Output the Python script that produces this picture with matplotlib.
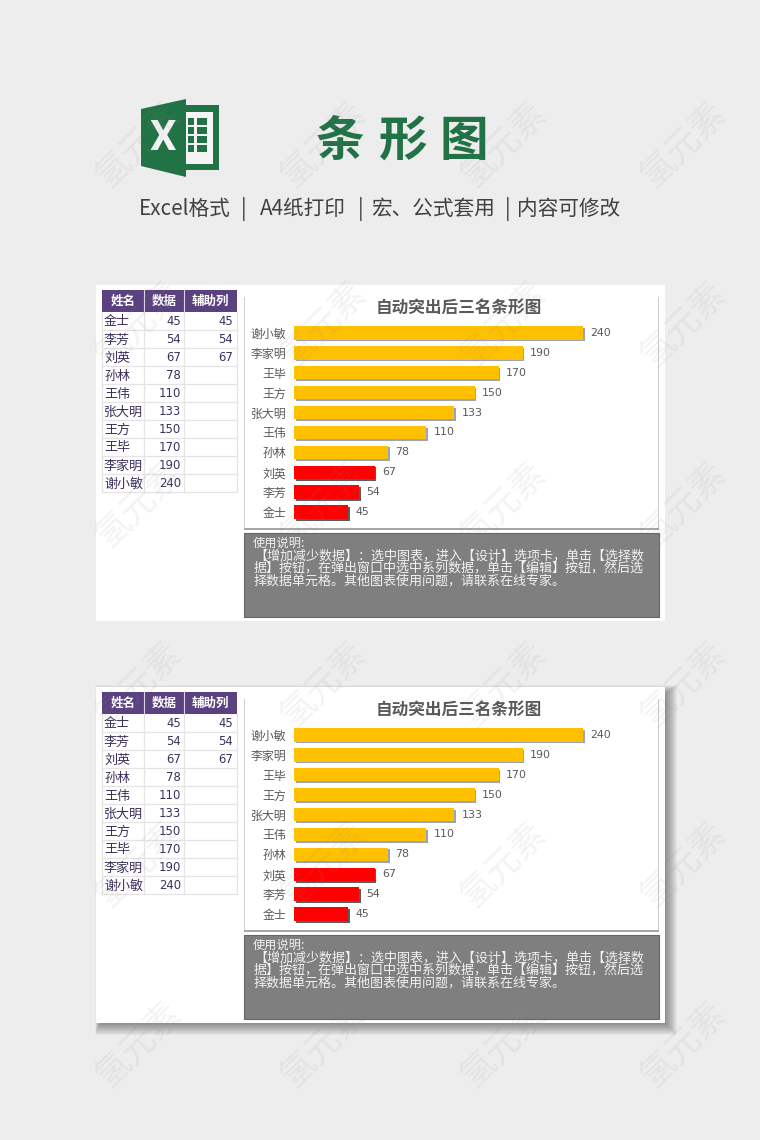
import matplotlib
matplotlib.use("Agg")
import matplotlib.pyplot as plt
import matplotlib.patheffects as pe
from matplotlib.patches import Rectangle, Polygon

plt.rcParams["font.family"] = ["Noto Sans CJK SC", "DejaVu Sans"]

# --- dados ---
nomes = ["金士", "李芳", "刘英", "孙林", "王伟", "张大明", "王方", "王毕", "李家明", "谢小敏"]
dados = [45, 54, 67, 78, 110, 133, 150, 170, 190, 240]
auxiliar = [45, 54, 67, None, None, None, None, None, None, None]
cabecalho = ["姓名", "数据", "辅助列"]
titulo_grafico = "自动突出后三名条形图"
nota = [
    "使用说明:",
    "【增加减少数据】：选中图表，进入【设计】选项卡，单击【选择数",
    "据】按钮，在弹出窗口中选中系列数据，单击【编辑】按钮，然后选",
    "择数据单元格。其他图表使用问题，请联系在线专家。",
]

W, H = 760, 1140
VERDE = "#217346"
ROXO = "#5b4180"
TEXTO_ROXO = "#3d2f5c"
CINZA = "#595959"

fig = plt.figure(figsize=(W / 100, H / 100), dpi=100, facecolor="#ededed")

# eixo de fundo em pixels
bg = fig.add_axes([0, 0, 1, 1], zorder=0)
bg.set_xlim(0, W)
bg.set_ylim(H, 0)
bg.axis("off")


def ret(ax, x0, y0, x1, y1, **kw):
    ax.add_patch(Rectangle((x0, y0), x1 - x0, y1 - y0, linewidth=kw.pop("linewidth", 0), **kw))


# --- cabeçalho: logo, título, subtítulo ---
ret(bg, 186, 105, 219, 170, facecolor=VERDE)
ret(bg, 186, 112, 213, 164, facecolor="#f4f4f4")
for cx, cw in [(188, 6), (197, 10)]:
    for cy in [118, 127, 136, 145]:
        ret(bg, cx, cy, cx + cw, cy + 7, facecolor=VERDE)
bg.add_patch(Polygon([(141, 109), (186, 99), (186, 177), (141, 166)], closed=True, facecolor=VERDE, linewidth=0))
bg.text(163, 138, "X", color="#f4f4f4", fontsize=30, fontweight="bold", ha="center", va="center", family=["Roboto"])

for ch, xc in zip("条形图", [340, 402, 464]):
    bg.text(xc, 141, ch, color=VERDE, fontsize=35, fontweight="bold", ha="center", va="center")

for txt, x in [("Excel格式", 139), ("|", 241), ("A4纸打印", 260), ("|", 358), ("宏、公式套用", 371), ("|", 505), ("内容可修改", 517)]:
    bg.text(x, 209, txt, color="#404040", fontsize=14.9, ha="left", va="center")


def desenha_painel(dy, sombra):
    if sombra:
        # sombra esfumada, mais forte embaixo e à direita
        for i in range(16, 0, -1):
            ret(bg, 100 - i * 0.3, 291 + dy - i * 0.5, 665 + i * 0.75, 621 + dy + i * 0.75, facecolor="#000000", alpha=0.028)
    ret(bg, 96, 285 + dy, 665, 621 + dy, facecolor="white")

    # tabela
    xs = [102, 144, 184, 237]
    ret(bg, xs[0], 290 + dy, xs[3], 312 + dy, facecolor=ROXO)
    for k in range(3):
        bg.text((xs[k] + xs[k + 1]) / 2, 301 + dy, cabecalho[k], color="white", fontsize=9, fontweight="bold", ha="center", va="center")
    for x in xs[1:3]:
        bg.plot([x, x], [290 + dy, 312 + dy], color="#d8d4e2", lw=0.8)
    linha_y = 312 + dy
    for i, nome in enumerate(nomes):
        y = linha_y + 18 * i
        bg.plot([xs[0], xs[3]], [y + 18, y + 18], color="#e4e4e4", lw=0.9)
        bg.text(104, y + 10, nome, color=TEXTO_ROXO, fontsize=9.4, ha="left", va="center")
        bg.text(181, y + 9.5, str(dados[i]), color=TEXTO_ROXO, fontsize=8.4, ha="right", va="center", family=["DejaVu Sans"])
        if auxiliar[i] is not None:
            bg.text(233, y + 9.5, str(auxiliar[i]), color=TEXTO_ROXO, fontsize=8.4, ha="right", va="center", family=["DejaVu Sans"])
    for x in xs:
        bg.plot([x, x], [312 + dy, 492 + dy], color="#e4e4e4", lw=0.9)

    # cartão do gráfico
    ret(bg, 244, 297 + dy, 659, 530 + dy, facecolor="#a6a6a6")
    ret(bg, 245, 297 + dy, 657.5, 527.5 + dy, facecolor="white")
    ret(bg, 244, 297 + dy, 245, 527.5 + dy, facecolor="#d0d0d0")
    ret(bg, 657.5, 297 + dy, 659, 527.5 + dy, facecolor="#cccccc")
    bg.text(459, 308 + dy, titulo_grafico, color=CINZA, fontsize=12, fontweight="bold", ha="center", va="center")

    # gráfico de barras
    topo, base = 323 + dy, 522 + dy
    ax = fig.add_axes([294 / W, 1 - base / H, 349 / W, (base - topo) / H], zorder=2)
    ax.patch.set_alpha(0)
    y_pos = list(range(len(nomes)))
    barras = ax.barh(y_pos, dados, height=0.67, color="#ffc000")
    for b in barras:
        b.set_path_effects([pe.withSimplePatchShadow(offset=(1.3, -1.3), shadow_rgbFace="#8a93b0", alpha=0.85), pe.Normal()])
    y_aux = [p for p, v in zip(y_pos, auxiliar) if v is not None]
    v_aux = [v for v in auxiliar if v is not None]
    vermelhas = ax.barh(y_aux, v_aux, height=0.67, color="#ff0000")
    for b in vermelhas:
        b.set_path_effects([pe.withSimplePatchShadow(offset=(1.3, -1.3), shadow_rgbFace="#505050", alpha=0.85), pe.Normal()])
    for p, v in zip(y_pos, dados):
        ax.annotate(str(v), (v, p), xytext=(5.5, 0), textcoords="offset points", color=CINZA, fontsize=7.9, va="center", family=["DejaVu Sans"])
    ax.set_xlim(0, 290)
    ax.set_ylim(-0.5, len(nomes) - 0.5)
    ax.set_yticks(y_pos, nomes, color=CINZA, fontsize=8.6)
    ax.tick_params(axis="y", length=0, pad=5.5)
    ax.set_xticks([])
    for s in ax.spines.values():
        s.set_visible(False)

    # caixa de instruções
    ret(bg, 244, 533 + dy, 659, 617 + dy, facecolor="#7f7f7f", edgecolor="#666666", linewidth=0.8)
    bg.text(253, 543 + dy, nota[0], color="#f2f2f2", fontsize=8.8, ha="left", va="center")
    for linha, y in zip(nota[1:], [556, 568.5, 581]):
        bg.text(254, y + dy, linha, color="#f2f2f2", fontsize=9.38, ha="left", va="center")


desenha_painel(0, False)
desenha_painel(402, True)

# --- marca d'água ---
topo_ax = fig.add_axes([0, 0, 1, 1], zorder=5)
topo_ax.set_xlim(0, W)
topo_ax.set_ylim(H, 0)
topo_ax.axis("off")
topo_ax.patch.set_alpha(0)
for yw in [145, 325, 505, 685, 865, 1045]:
    for xw in [140, 325, 505, 685]:
        topo_ax.text(xw, yw, "氢元素", color="#8a8a8a", alpha=0.1, fontsize=25, rotation=45, ha="center", va="center")

fig.savefig("out.png", dpi=100)
print("ok")
